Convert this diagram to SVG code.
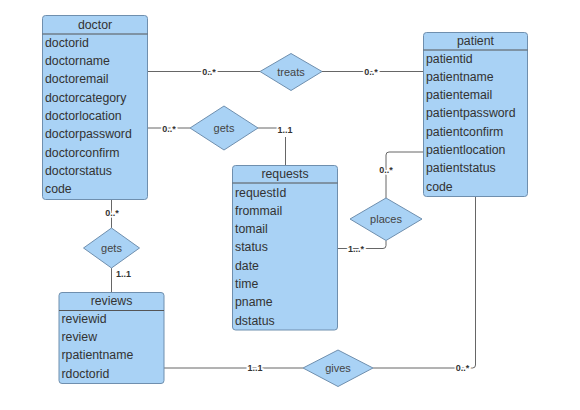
<svg xmlns="http://www.w3.org/2000/svg" width="580" height="410" viewBox="0 0 580 410">
<style>
.box{fill:#a9d2f5;stroke:#6f8fae;stroke-width:1}
.sep{stroke:#555;stroke-width:1}
.t{font-family:"Liberation Sans",Arial,sans-serif;font-size:12.3px;fill:#333}
.title{text-anchor:middle}
.dia{fill:#a9d2f5;stroke:#6f8fae;stroke-width:1}
.dt{font-family:"Liberation Sans",Arial,sans-serif;font-size:11px;fill:#444;text-anchor:middle}
.ln{fill:none;stroke:#666;stroke-width:1}
.lb{font-family:"Liberation Sans",Arial,sans-serif;font-size:9px;font-weight:bold;fill:#333;stroke:#fff;stroke-width:3;paint-order:stroke;text-anchor:middle}
</style>
<rect width="580" height="410" fill="#fff"/>
<g id="connectors">
<path class="ln" d="M147 71.5H260"/>
<path class="ln" d="M322 71.5H423"/>
<path class="ln" d="M147 128H190"/>
<path class="ln" d="M258 128H278"/>
<path class="ln" d="M285.5 137V166"/>
<path class="ln" d="M111.5 199V228"/>
<path class="ln" d="M111.5 268V293"/>
<path class="ln" d="M337 248.5H383a3 3 0 0 0 3-3V240.5"/>
<path class="ln" d="M386 198V155a3 3 0 0 1 3-3H423"/>
<path class="ln" d="M475.5 197V365a3 3 0 0 1-3 3H373"/>
<path class="ln" d="M164 368H303"/>
<text class="lb" x="209" y="75">0..*</text>
<text class="lb" x="371" y="75">0..*</text>
<text class="lb" x="169" y="131.5">0..*</text>
<text class="lb" x="285" y="132.5">1..1</text>
<text class="lb" x="112" y="215.5">0..*</text>
<text class="lb" x="123.5" y="277">1..1</text>
<text class="lb" x="356" y="251.5">1...*</text>
<text class="lb" x="386" y="172.5">0..*</text>
<text class="lb" x="255" y="371">1..1</text>
<text class="lb" x="462.5" y="371">0..*</text>
</g>
<g id="doctor">
<rect class="box" x="42.5" y="15.5" width="105" height="184" rx="3"/>
<line class="sep" x1="42.5" y1="34" x2="147.5" y2="34"/>
<text class="t title" x="95" y="28.5">doctor</text>
<text class="t" x="45" y="46.5">doctorid</text>
<text class="t" x="45" y="65">doctorname</text>
<text class="t" x="45" y="83.3">doctoremail</text>
<text class="t" x="45" y="101.6">doctorcategory</text>
<text class="t" x="45" y="119.9">doctorlocation</text>
<text class="t" x="45" y="138.2">doctorpassword</text>
<text class="t" x="45" y="156.5">doctorconfirm</text>
<text class="t" x="45" y="174.8">doctorstatus</text>
<text class="t" x="45" y="193.1">code</text>
</g>
<g id="patient">
<rect class="box" x="423.5" y="32.5" width="104" height="164" rx="3"/>
<line class="sep" x1="423.5" y1="50" x2="527.5" y2="50"/>
<text class="t title" x="475.5" y="44.5">patient</text>
<text class="t" x="426" y="62.5">patientid</text>
<text class="t" x="426" y="80.8">patientname</text>
<text class="t" x="426" y="99.1">patientemail</text>
<text class="t" x="426" y="117.4">patientpassword</text>
<text class="t" x="426" y="135.7">patientconfirm</text>
<text class="t" x="426" y="154">patientlocation</text>
<text class="t" x="426" y="172.3">patientstatus</text>
<text class="t" x="426" y="190.6">code</text>
</g>
<g id="requests">
<rect class="box" x="232.5" y="165.5" width="105" height="164.5" rx="3"/>
<line class="sep" x1="232.5" y1="183" x2="337.5" y2="183"/>
<text class="t title" x="285" y="178">requests</text>
<text class="t" x="235" y="196.5">requestId</text>
<text class="t" x="235" y="214.8">frommail</text>
<text class="t" x="235" y="233.1">tomail</text>
<text class="t" x="235" y="251.4">status</text>
<text class="t" x="235" y="269.7">date</text>
<text class="t" x="235" y="288">time</text>
<text class="t" x="235" y="306.3">pname</text>
<text class="t" x="235" y="324.6">dstatus</text>
</g>
<g id="reviews">
<rect class="box" x="59" y="292.5" width="105" height="91" rx="3"/>
<line class="sep" x1="59" y1="310.5" x2="164" y2="310.5"/>
<text class="t title" x="111.5" y="304.5">reviews</text>
<text class="t" x="61.5" y="322.5">reviewid</text>
<text class="t" x="61.5" y="341">review</text>
<text class="t" x="61.5" y="359.3">rpatientname</text>
<text class="t" x="61.5" y="377.6">rdoctorid</text>
</g>
<g id="treats">
<polygon class="dia" points="291,53.5 322,71.5 291,90.5 260,71.5"/>
<text class="dt" x="291" y="75.5">treats</text>
</g>
<g id="gets1">
<polygon class="dia" points="224,106 258,128 224,150 190,128"/>
<text class="dt" x="224" y="132">gets</text>
</g>
<g id="gets2">
<polygon class="dia" points="111.5,228 139.5,248 111.5,268 83.5,248"/>
<text class="dt" x="111.5" y="252">gets</text>
</g>
<g id="places">
<polygon class="dia" points="386,198 422,219 386,240.5 350,219"/>
<text class="dt" x="386" y="223">places</text>
</g>
<g id="gives">
<polygon class="dia" points="338,350 373,368 338,386.5 303,368"/>
<text class="dt" x="338" y="372">gives</text>
</g>
</svg>
